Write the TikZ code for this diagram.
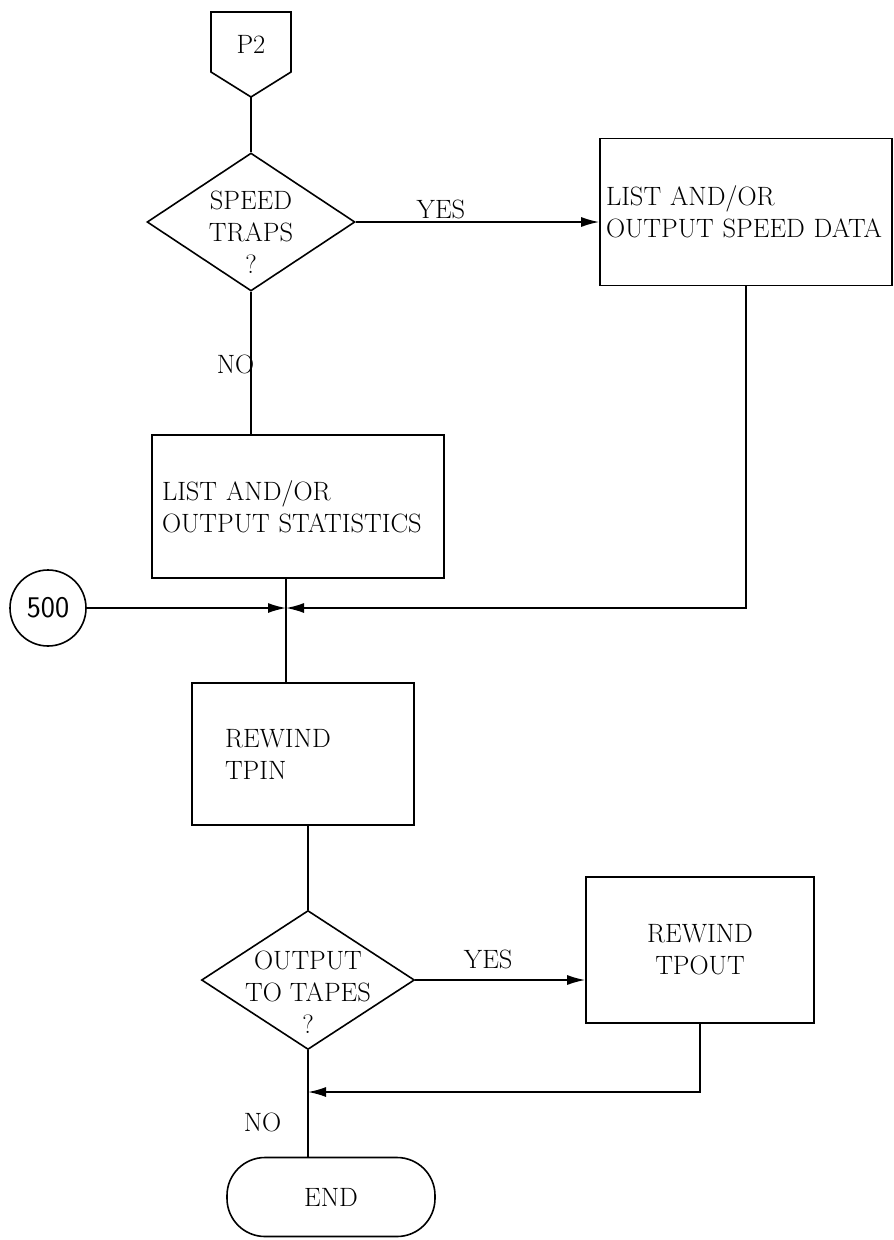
\documentclass[tikz,border=0pt]{standalone}
\usepackage{tikz}
\usetikzlibrary{arrows.meta,positioning,shapes.geometric}

\begin{document}
\begin{tikzpicture}[x=1pt,y=-1pt,
    line width=1.6pt,
    font=\fontsize{26.5}{32}\selectfont,
    process/.style={draw, inner sep=0pt},
    decision/.style={diamond, draw, inner sep=0pt, minimum width=#1},
    terminal/.style={draw, rounded corners=38pt, minimum width=208pt, minimum height=79pt},
    flow/.style={-{Latex[length=18pt,width=10pt]}},
    lbl/.style={inner sep=0pt}]
    \useasboundingbox (0,0) rectangle (894,1240);

    % off-page connector
    \node (p2) at (251,44) {P2};
    \draw (211,12) -- (291,12) -- (291,72) -- (251,97) -- (211,72) -- cycle;
    \coordinate (p2tip) at (251,97);

    % first test
    \node[decision=208pt, minimum height=138pt] (traps) at (251,222) {};
    \node[align=center] (trapstxt) at ([yshift=-10pt]traps.center) {SPEED\\TRAPS\\?};
    \node[process, minimum width=292pt, minimum height=147pt, text width=280pt, align=left]
        (speed) at (746,212) {LIST AND/OR\\OUTPUT SPEED DATA};
    \node[process, minimum width=292pt, minimum height=143pt, text width=272pt, align=left]
        (stats) at (298,506.5) {LIST AND/OR\\OUTPUT STATISTICS};

    \draw (p2tip) -- (traps.north);
    \draw[flow] (traps.east) -- (traps.east -| speed.west)
        node[lbl, pos=0.35, anchor=south, yshift=2pt] {YES};
    \draw (traps.south) -- (traps.south |- stats.north)
        node[lbl, pos=0.51, anchor=east, xshift=4pt] {NO};

    % join
    \node[draw, circle, minimum size=76pt, inner sep=0pt, font=\fontsize{30}{30}\sffamily]
        (c500) at (48,608) {500};
    \coordinate (merge) at (286,608);
    \draw[flow] (c500) -- (merge);
    \draw[flow] (speed.south) |- (merge);

    \node[process, minimum width=222pt, minimum height=142pt, text width=156pt, align=left]
        (tpin) at (303,754) {REWIND\\TPIN};
    \draw (stats.south -| merge) -- (tpin.north -| merge);

    % second test
    \node[decision=213pt, minimum height=139pt] (tapes) at (308,980) {};
    \node[align=center] (tapestxt) at ([yshift=-12pt]tapes.center) {OUTPUT\\TO TAPES\\?};
    \node[process, minimum width=228pt, minimum height=146pt, align=center]
        (tpout) at (700,950) {REWIND\\TPOUT};
    \node[terminal] (stop) at (331,1197) {END};
    \coordinate (back) at (308,1092);

    \draw (tapes.north |- tpin.south) -- (tapes.north);
    \draw[flow] (tapes.east) -- (tapes.east -| tpout.west)
        node[lbl, midway, anchor=south, yshift=10pt, xshift=-12pt] {YES};
    \draw[flow] (tpout.south) |- (back);
    \draw (tapes.south) -- (tapes.south |- stop.north)
        node[lbl, pos=0.68, anchor=east, xshift=-26pt] {NO};
\end{tikzpicture}
\end{document}
